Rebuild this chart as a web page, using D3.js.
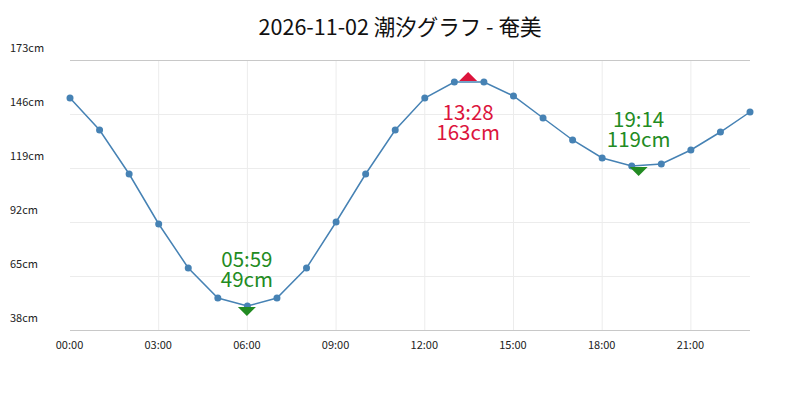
<!DOCTYPE html>
<html>
<head>
<meta charset="utf-8">
<script src="https://cdn.jsdelivr.net/npm/d3@7"></script>
<style>
  body { margin: 0; background: #fff; }
  text { font-family: "Noto Sans CJK JP", "Noto Sans", sans-serif; }
</style>
</head>
<body>
<div id="chart"></div>
<script>
// hourly tide readings
var times = ["00:00", "01:00", "02:00", "03:00", "04:00", "05:00", "06:00", "07:00",
  "08:00", "09:00", "10:00", "11:00", "12:00", "13:00", "14:00", "15:00",
  "16:00", "17:00", "18:00", "19:00", "20:00", "21:00", "22:00", "23:00"];
var levels = [154, 138, 116, 91, 69, 54, 50, 54, 69, 92, 116, 138,
  154, 162, 162, 155, 144, 133, 124, 120, 121, 128, 137, 147];

// high / low tide
var extremeTimes = ["05:59", "13:28", "19:14"];
var extremeLevels = [49, 163, 119];
var extremeTypes = ["low", "high", "low"];

// ticks
var xTickLabels = ["00:00", "03:00", "06:00", "09:00", "12:00", "15:00", "18:00", "21:00"];
var yTicks = [38, 65, 92, 119, 146, 173];

var title = "2026-11-02 潮汐グラフ - 奄美";

var svgWidth = 800;
var svgHeight = 400;
var margin = { top: 60, bottom: 70, left: 70, right: 50 };

function toHours(t) {
  var p = t.split(":");
  return +p[0] + (+p[1]) / 60;
}

var data = times.map(function(t, i) {
  return { h: toHours(t), v: levels[i] };
});
var extremes = extremeTimes.map(function(t, i) {
  return { h: toHours(t), v: extremeLevels[i], type: extremeTypes[i], label: t };
});

var svg = d3.select("#chart")
  .append("svg")
  .attr("width", svgWidth)
  .attr("height", svgHeight);

var x = d3.scaleLinear()
  .domain([toHours(times[0]), toHours(times[times.length - 1])])
  .range([margin.left, svgWidth - margin.right]);

var y = d3.scaleLinear()
  .domain([d3.min(yTicks), d3.max(yTicks)])
  .range([svgHeight - margin.bottom, margin.top]);

// title
svg.append("text")
  .attr("x", svgWidth / 2)
  .attr("y", 35)
  .attr("text-anchor", "middle")
  .attr("font-size", "21.5px")
  .attr("fill", "#111")
  .text(title);

// vertical grid
var xTickVals = xTickLabels.map(toHours);
svg.append("g")
  .selectAll("line")
  .data(xTickVals.filter(function(d) { return d > 0; }))
  .enter()
  .append("line")
  .attr("x1", d => x(d))
  .attr("x2", d => x(d))
  .attr("y1", y.range()[1])
  .attr("y2", y.range()[0])
  .attr("stroke", "#ececec")
  .attr("stroke-width", 1);

// horizontal grid
svg.append("g")
  .selectAll("line")
  .data(yTicks)
  .enter()
  .append("line")
  .attr("x1", x.range()[0])
  .attr("x2", x.range()[1])
  .attr("y1", d => Math.round(y(d)) + 0.5)
  .attr("y2", d => Math.round(y(d)) + 0.5)
  .attr("stroke", (d, i) => (i == 0 || i == yTicks.length - 1) ? "#c8c8c8" : "#ececec")
  .attr("stroke-width", 1);

// y labels (sit above their gridline)
svg.append("g")
  .selectAll("text")
  .data(yTicks)
  .enter()
  .append("text")
  .attr("x", 10)
  .attr("y", d => y(d) - 8)
  .attr("font-size", "11px")
  .attr("fill", "#222")
  .text(d => d + "cm");

// x labels
var xAxis = d3.axisBottom(x)
  .tickValues(xTickVals)
  .tickFormat((d, i) => xTickLabels[i])
  .tickSize(0)
  .tickPadding(11);

var xg = svg.append("g")
  .attr("transform", `translate(-1, ${y.range()[0]})`)
  .call(xAxis);
xg.select(".domain").remove();
xg.selectAll("text")
  .attr("font-size", "11px")
  .attr("font-family", "'Noto Sans CJK JP', sans-serif")
  .attr("fill", "#222");

// tide line
var line = d3.line()
  .x(d => x(d.h))
  .y(d => y(d.v));

svg.append("path")
  .datum(data)
  .attr("fill", "none")
  .attr("stroke", "steelblue")
  .attr("stroke-width", 1.5)
  .attr("d", line);

svg.append("g")
  .selectAll("circle")
  .data(data)
  .enter()
  .append("circle")
  .attr("cx", d => x(d.h))
  .attr("cy", d => y(d.v))
  .attr("r", 3.5)
  .attr("fill", "steelblue");

// markers + labels for high / low
var tri = d3.line();
extremes.forEach(function(e) {
  var cx = x(e.h);
  var cy = y(e.v);
  var color = e.type == "high" ? "crimson" : "forestgreen";
  var pts = e.type == "high"
    ? [[cx - 9, cy + 1], [cx + 9, cy + 1], [cx, cy - 8]]
    : [[cx - 9, cy - 1], [cx + 9, cy - 1], [cx, cy + 8]];

  svg.append("path")
    .attr("d", tri(pts) + "Z")
    .attr("fill", color);

  var y1 = e.type == "high" ? cy + 40 : cy - 41;
  svg.append("text")
    .attr("x", cx)
    .attr("y", y1)
    .attr("text-anchor", "middle")
    .attr("font-size", "20.5px")
    .attr("fill", color)
    .text(e.label);
  svg.append("text")
    .attr("x", cx)
    .attr("y", y1 + 20)
    .attr("text-anchor", "middle")
    .attr("font-size", "20.5px")
    .attr("fill", color)
    .text(e.v + "cm");
});
</script>
</body>
</html>
